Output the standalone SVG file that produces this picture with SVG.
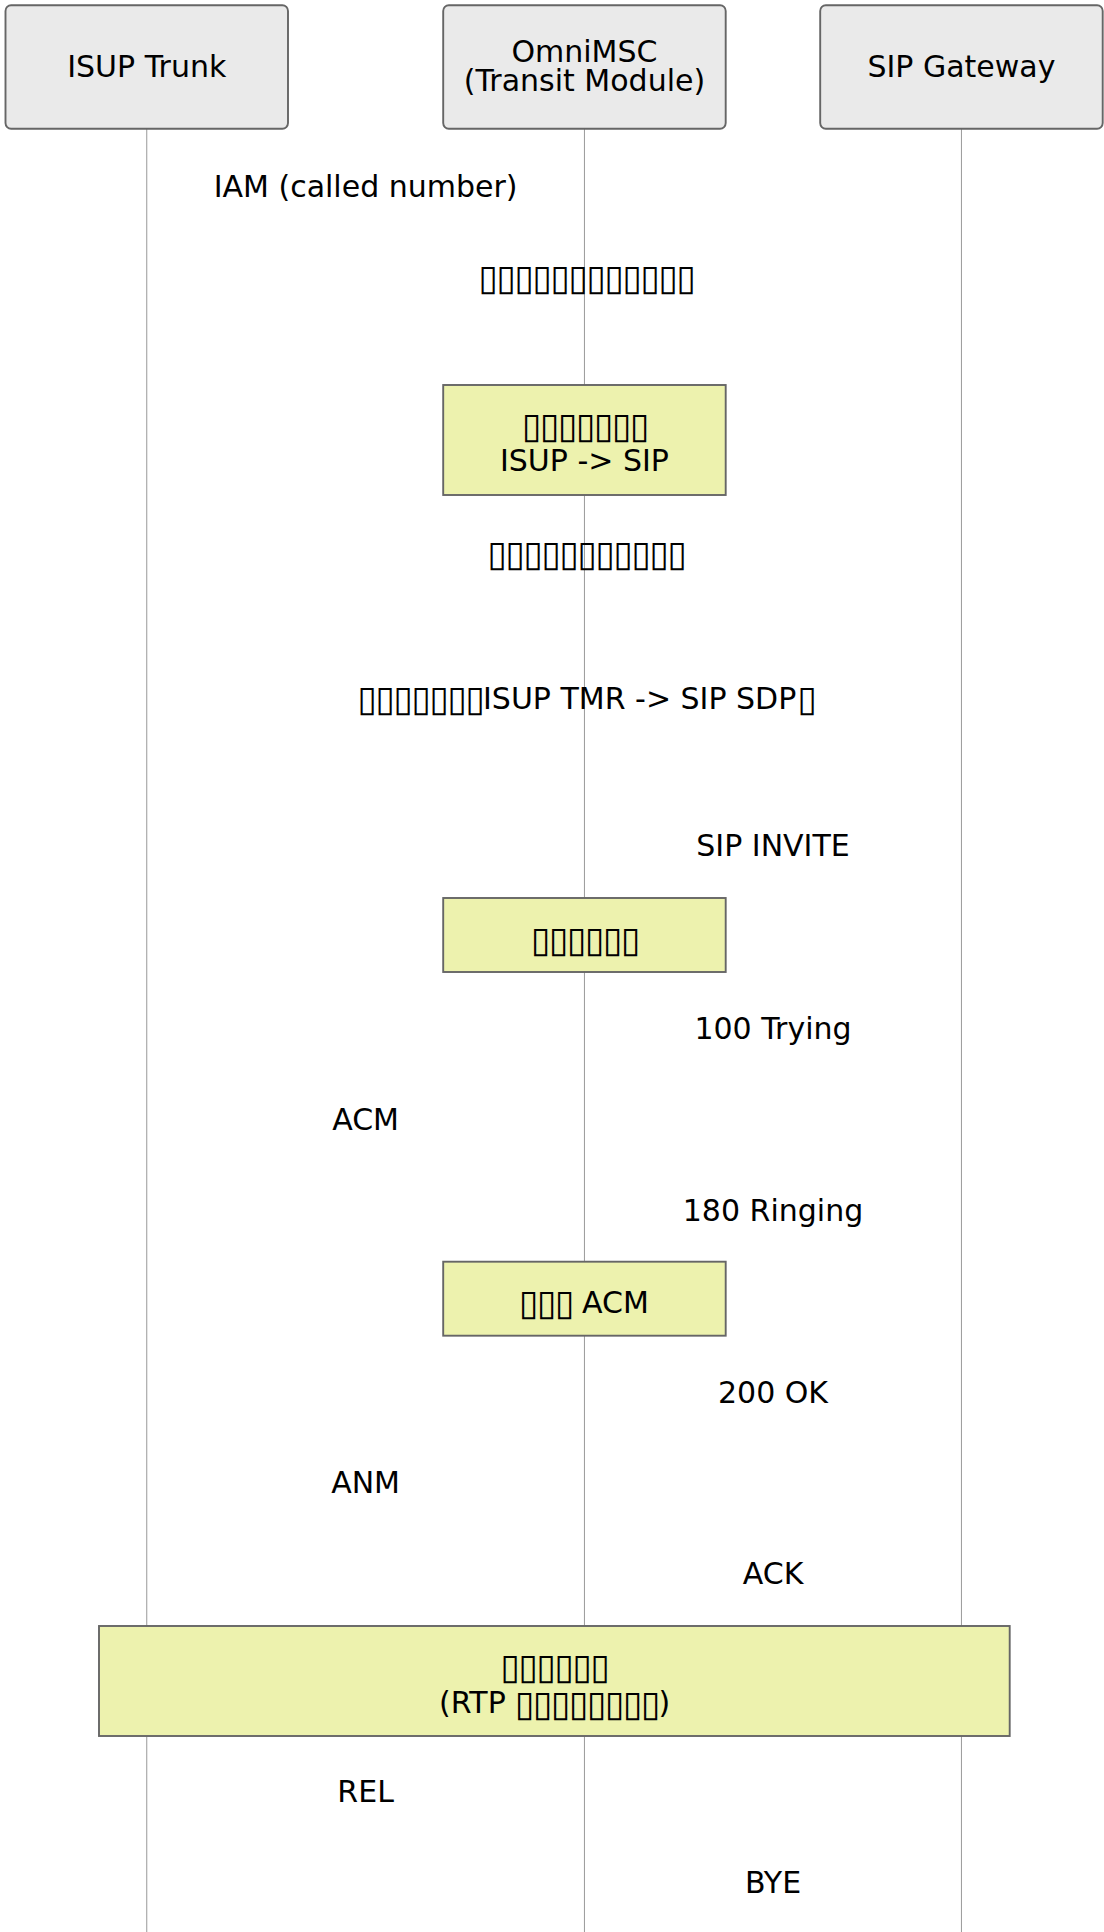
<svg xmlns="http://www.w3.org/2000/svg" width="1104" height="1932" viewBox="0 0 1104 1932">
  <style>
    text { font-family: "DejaVu Sans", "Noto Sans", sans-serif; font-size: 30px; fill: #000; }
    .mid { text-anchor: middle; }
    .start { text-anchor: start; }
    .tofu { font-size: 36px; }
    .actor { fill: #eaeaea; stroke: #666; stroke-width: 1.9; }
    .note { fill: #edf2ae; stroke: #666; stroke-width: 1.9; }
    .life { stroke: #999; stroke-width: 1; fill: none; }
  </style>

  <rect x="0" y="0" width="1104" height="1932" fill="#ffffff"/>

  <!-- lifelines -->
  <g id="lifelines">
    <line class="life" x1="146.75" y1="128.7" x2="146.75" y2="1932"/>
    <line class="life" x1="584.45" y1="128.7" x2="584.45" y2="1932"/>
    <line class="life" x1="961.45" y1="128.7" x2="961.45" y2="1932"/>
  </g>

  <!-- participants -->
  <g id="actor-isup">
    <rect class="actor" x="5.5" y="5.3" width="282.5" height="123.4" rx="5.6" ry="5.6"/>
    <text class="mid" x="146.75" y="76.7">ISUP Trunk</text>
  </g>
  <g id="actor-msc">
    <rect class="actor" x="443.2" y="5.3" width="282.5" height="123.4" rx="5.6" ry="5.6"/>
    <text class="mid" x="584.45" y="62.3">OmniMSC</text>
    <text class="mid" x="584.45" y="90.5">(Transit Module)</text>
  </g>
  <g id="actor-sip">
    <rect class="actor" x="820.2" y="5.3" width="282.5" height="123.4" rx="5.6" ry="5.6"/>
    <text class="mid" x="961.45" y="76.7">SIP Gateway</text>
  </g>

  <!-- notes -->
  <g id="note-convert">
    <rect class="note" x="443.2" y="385" width="282.5" height="110"/>
    <text class="start tofu" y="437.5"><tspan x="522 540 558 576 594 612 630">▯▯▯▯▯▯▯</tspan></text>
    <text class="mid" x="584.45" y="471">ISUP -&gt; SIP</text>
  </g>
  <g id="note-wait">
    <rect class="note" x="443.2" y="898" width="282.5" height="74"/>
    <text class="start tofu" y="952"><tspan x="531 549 567 585 603 621">▯▯▯▯▯▯</tspan></text>
  </g>
  <g id="note-acm">
    <rect class="note" x="443.2" y="1261.7" width="282.5" height="74"/>
    <text class="start" y="1312.7"><tspan class="tofu" dy="2.5" x="519 537 555">▯▯▯</tspan><tspan dy="-2.5" x="572.5"> ACM</tspan></text>
  </g>
  <g id="note-media">
    <rect class="note" x="99" y="1626" width="910.7" height="110"/>
    <text class="start tofu" y="1679"><tspan x="500.5 518.5 536.5 554.5 572.5 590.5">▯▯▯▯▯▯</tspan></text>
    <text class="start" y="1713.3"><tspan x="439">(RTP </tspan><tspan class="tofu" dy="2.5" x="515 533 551 569 587 605 623 641">▯▯▯▯▯▯▯▯</tspan><tspan dy="-2.5" x="658.5">)</tspan></text>
  </g>

  <!-- message labels -->
  <g id="messages">
    <text class="mid" x="365.6" y="196.7">IAM (called number)</text>
    <text class="start tofu" y="290.2"><tspan x="478.5 496.5 514.5 532.5 550.5 568.5 586.5 604.5 622.5 640.5 658.5 676.5">▯▯▯▯▯▯▯▯▯▯▯▯</tspan></text>
    <text class="start tofu" y="565.5"><tspan x="487.5 505.5 523.5 541.5 559.5 577.5 595.5 613.5 631.5 649.5 667.5">▯▯▯▯▯▯▯▯▯▯▯</tspan></text>
    <text class="start" y="708.5"><tspan class="tofu" dy="2.5" x="357.5 375.5 393.5 411.5 429.5 447.5 465.5">▯▯▯▯▯▯▯</tspan><tspan dy="-2.5" x="483">ISUP TMR -&gt; SIP SDP</tspan><tspan class="tofu" dy="2.5" x="797.5">▯</tspan></text>
    <text class="mid" x="773" y="856">SIP INVITE</text>
    <text class="mid" x="773" y="1039.3">100 Trying</text>
    <text class="mid" x="365.6" y="1130">ACM</text>
    <text class="mid" x="773" y="1220.7">180 Ringing</text>
    <text class="mid" x="773" y="1402.7">200 OK</text>
    <text class="mid" x="365.6" y="1493">ANM</text>
    <text class="mid" x="773" y="1584">ACK</text>
    <text class="mid" x="365.6" y="1801.7">REL</text>
    <text class="mid" x="773" y="1893.3">BYE</text>
  </g>
</svg>
